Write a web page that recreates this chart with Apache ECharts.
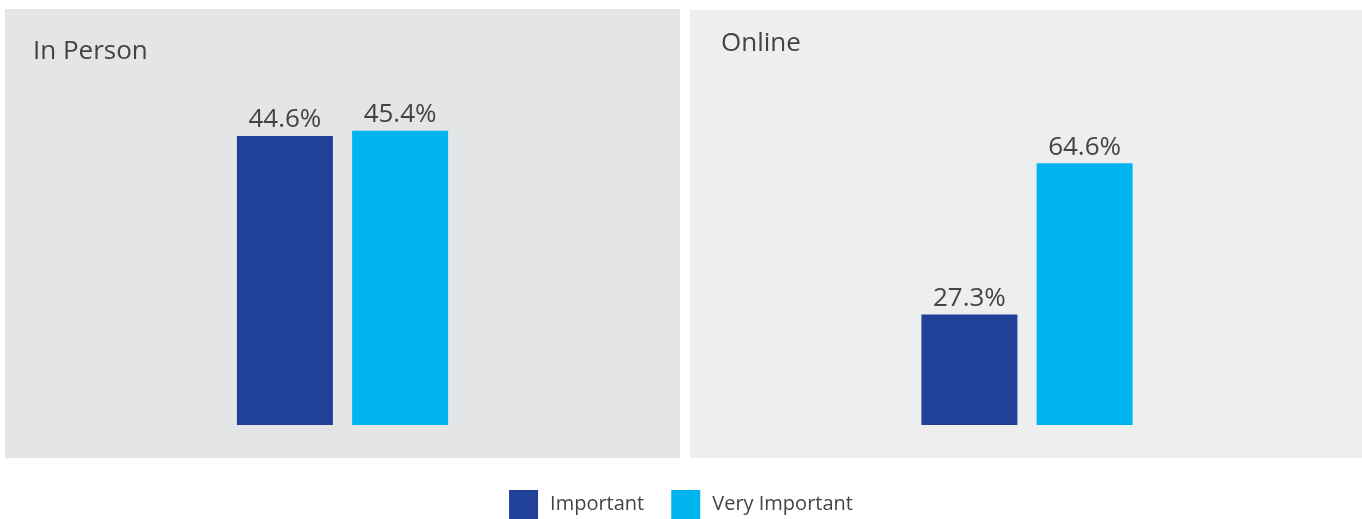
<!DOCTYPE html>
<html>
<head>
<meta charset="utf-8">
<script src="https://cdn.jsdelivr.net/npm/echarts@6/dist/echarts.min.js"></script>
<style>
  html, body { margin: 0; padding: 0; background: #fff; }
  #chart { width: 1362px; height: 519px; }
</style>
</head>
<body>
<div id="chart"></div>
<script>
// data
var panels = ['In Person', 'Online']
var seriesNames = ['Important', 'Very Important']
var important = [44.6, 27.3]
var veryImportant = [45.4, 64.6]
var axisMax = [50, 80]

var colors = ['#21409a', '#00b5ef']
var font = 'Open Sans'
var textColor = '#444444'

var chart = echarts.init(document.getElementById('chart'))

function barSeries(name, value, idx, color) {
  return {
    name: name,
    type: 'bar',
    xAxisIndex: idx,
    yAxisIndex: idx,
    data: [value],
    barWidth: 96,
    barGap: '20%',
    itemStyle: { color: color },
    label: {
      show: true,
      position: 'top',
      distance: 3,
      formatter: '{c}%',
      color: textColor,
      fontFamily: font,
      fontSize: 26
    }
  }
}

var series = []
panels.forEach(function (p, i) {
  series.push(barSeries(seriesNames[0], important[i], i, colors[0]))
  series.push(barSeries(seriesNames[1], veryImportant[i], i, colors[1]))
})

var option = {
  animation: false,
  textStyle: { fontFamily: font },
  graphic: [
    { type: 'rect', z: -10, shape: { x: 5, y: 9, width: 675, height: 449 }, style: { fill: '#e4e5e7' } },
    { type: 'rect', z: -10, shape: { x: 690, y: 10, width: 672, height: 448 }, style: { fill: '#eeeeee' } }
  ],
  title: [
    { text: panels[0], left: 28, top: 34, textStyle: { color: textColor, fontFamily: font, fontSize: 26, fontWeight: 'normal' } },
    { text: panels[1], left: 716, top: 26, textStyle: { color: textColor, fontFamily: font, fontSize: 26, fontWeight: 'normal' } }
  ],
  legend: {
    data: seriesNames,
    left: 'center',
    top: 490,
    padding: 0,
    icon: 'rect',
    itemWidth: 29,
    itemHeight: 29,
    itemGap: 27,
    textStyle: { color: textColor, fontFamily: font, fontSize: 20, padding: [0, 0, 0, 7] }
  },
  grid: [
    { left: 5, right: 682, top: 101, bottom: 94 },
    { left: 692, right: 0, top: 101, bottom: 94 }
  ],
  xAxis: [0, 1].map(function (i) {
    return { type: 'category', gridIndex: i, data: [panels[i]], show: false }
  }),
  yAxis: [0, 1].map(function (i) {
    return { type: 'value', gridIndex: i, min: 0, max: axisMax[i], show: false, splitLine: { show: false } }
  }),
  series: series
}

chart.setOption(option)
</script>
</body>
</html>
